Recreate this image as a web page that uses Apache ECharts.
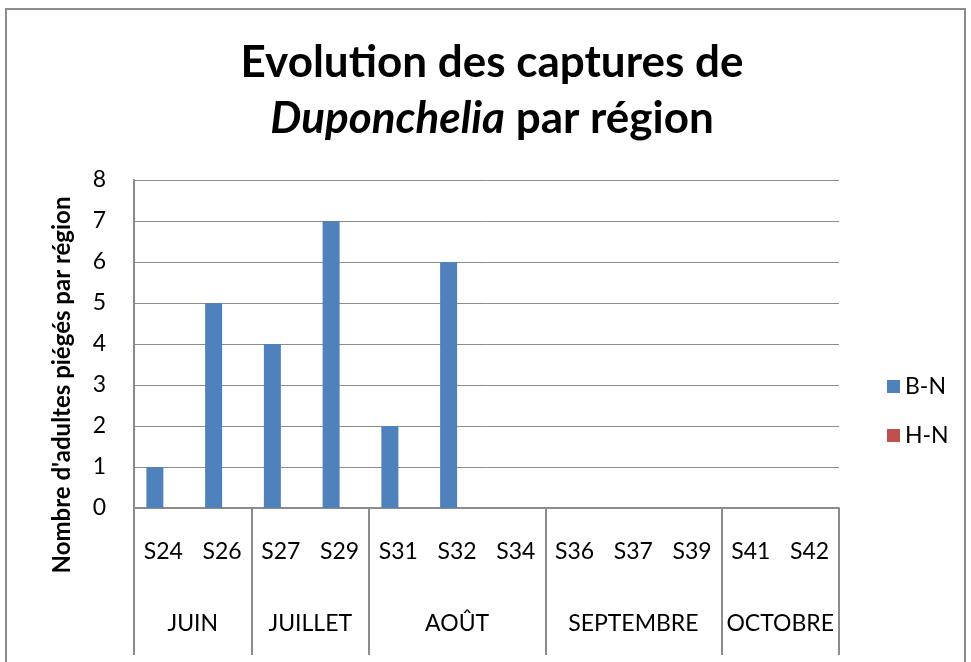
<!DOCTYPE html>
<html>
<head>
<meta charset="utf-8">
<script src="https://cdn.jsdelivr.net/npm/echarts@6/dist/echarts.min.js"></script>
<style>
  html, body { margin: 0; padding: 0; background: #fff; }
  #chart { width: 971px; height: 662px; }
</style>
</head>
<body>
<div id="chart"></div>
<script>
// weeks and captures per region
const weeks = ['S24', 'S26', 'S27', 'S29', 'S31', 'S32', 'S34', 'S36', 'S37', 'S39', 'S41', 'S42']
const bnValues = [1, 5, 4, 7, 2, 6, 0, 0, 0, 0, 0, 0]
const hnValues = [0, 0, 0, 0, 0, 0, 0, 0, 0, 0, 0, 0]
const months = ['JUIN', 'JUILLET', 'AOÛT', 'SEPTEMBRE', 'OCTOBRE']
const monthWeekCounts = [2, 2, 3, 3, 2]
const yTicks = [0, 1, 2, 3, 4, 5, 6, 7, 8]

// month boundaries and centres, in category units
const bounds = [0]
monthWeekCounts.forEach(n => bounds.push(bounds[bounds.length - 1] + n))
const centres = months.map((m, i) => (bounds[i] + bounds[i + 1]) / 2)

const font = 'Lato'
const grey = '#8c8c8c'
const labelSize = 23

const chart = echarts.init(document.getElementById('chart'))
chart.setOption({
  animation: false,
  textStyle: { fontFamily: font },
  title: {
    text: 'Evolution des captures de\n{i|Duponchelia} par région',
    left: 487,
    top: 30,
    textAlign: 'center',
    textStyle: {
      fontFamily: font,
      fontSize: 44,
      fontWeight: 'bold',
      color: '#000',
      lineHeight: 56,
      rich: {
        i: { fontFamily: font, fontSize: 44, fontWeight: 'bold', fontStyle: 'italic', color: '#000', lineHeight: 56 }
      }
    }
  },
  legend: {
    orient: 'vertical',
    left: 882,
    top: 370,
    itemWidth: 13,
    itemHeight: 13,
    itemGap: 26,
    icon: 'rect',
    textStyle: { fontSize: labelSize, color: '#000', fontFamily: font },
    data: ['B-N', 'H-N']
  },
  grid: { left: 134, right: 132, top: 180, bottom: 154, containLabel: false },
  xAxis: [
    {
      type: 'category',
      data: weeks,
      axisLine: { lineStyle: { color: grey, width: 2 } },
      axisTick: { show: false },
      axisLabel: { interval: 0, margin: 32, fontSize: labelSize, color: '#000', fontFamily: font }
    },
    {
      type: 'value',
      min: 0,
      max: weeks.length,
      position: 'bottom',
      splitLine: { show: false },
      axisLine: { show: false },
      axisTick: { show: true, inside: false, length: 147, customValues: bounds, lineStyle: { color: grey, width: 2 } },
      axisLabel: {
        customValues: centres,
        margin: 104,
        fontSize: labelSize,
        color: '#000',
        fontFamily: font,
        formatter: v => months[centres.indexOf(v)]
      }
    }
  ],
  yAxis: {
    type: 'value',
    min: yTicks[0],
    max: yTicks[yTicks.length - 1],
    interval: 1,
    axisLine: { show: true, lineStyle: { color: grey, width: 2 } },
    axisTick: { show: false },
    splitLine: { lineStyle: { color: grey, width: 1 } },
    axisLabel: { margin: 28, fontSize: labelSize, color: '#000', fontFamily: font }
  },
  graphic: [
    {
      type: 'rect',
      shape: { x: 6, y: 9, width: 959, height: 700 },
      style: { fill: 'none', stroke: grey, lineWidth: 2 },
      silent: true
    },
    {
      type: 'text',
      x: 62,
      y: 385,
      rotation: Math.PI / 2,
      style: {
        text: "Nombre d'adultes piégés par région",
        font: 'bold 24px Lato',
        fill: '#000',
        textAlign: 'center',
        textVerticalAlign: 'middle'
      }
    }
  ],
  series: [
    { name: 'B-N', type: 'bar', data: bnValues, barWidth: 17, barGap: '0%', itemStyle: { color: '#4f81bd' } },
    { name: 'H-N', type: 'bar', data: hnValues, barWidth: 17, barGap: '0%', itemStyle: { color: '#c0504d' } }
  ]
})
</script>
</body>
</html>
